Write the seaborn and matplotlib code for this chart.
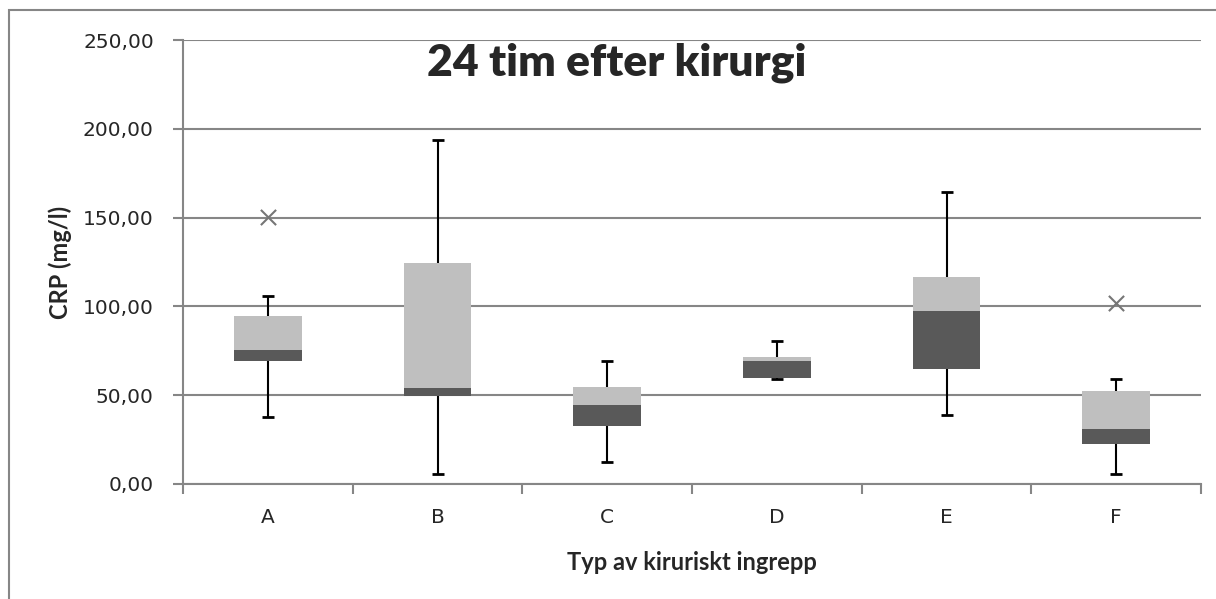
import numpy as np
import pandas as pd
import seaborn as sns
import matplotlib.pyplot as plt
from matplotlib.patches import Rectangle
from matplotlib.ticker import FuncFormatter, FixedLocator

# =========================================================
# DATA
# =========================================================
categories = ["A", "B", "C", "D", "E", "F"]
q1 = [69.3, 49.5, 32.6, 59.7, 64.8, 22.3]
median = [75.7, 53.8, 44.7, 69.5, 97.3, 31.2]
q3 = [94.9, 124.4, 54.9, 71.7, 116.5, 52.6]
whisker_low = [37.6, 5.7, 12.6, 58.9, 38.6, 5.7]
whisker_high = [105.7, 194.0, 69.0, 80.3, 164.7, 58.9]

outlier_cats = ["A", "F"]
outlier_vals = [150.6, 101.8]

title = "24 tim efter kirurgi"
xlabel = "Typ av kiruriskt ingrepp"
ylabel = "CRP (mg/l)"
yticks = [0, 50, 100, 150, 200, 250]

# =========================================================
# COLORS
# =========================================================
COL_LOW = "#595959"    # Q1 -> median
COL_HIGH = "#bfbfbf"   # median -> Q3
COL_GRID = "#868686"
COL_OUT = "#767676"

LABEL_FONT = ["Lato", "DejaVu Sans"]

df = pd.DataFrame({
    "cat": categories,
    "q1": q1,
    "median": median,
    "q3": q3,
    "lo": whisker_low,
    "hi": whisker_high,
})
df["lower_h"] = df["median"] - df["q1"]
df["upper_h"] = df["q3"] - df["median"]

# =========================================================
# FIGURE
# =========================================================
sns.set_style("white")
plt.rcParams["font.family"] = ["DejaVu Sans"]

fig = plt.figure(figsize=(12.16, 5.99), dpi=100)
ax = fig.add_axes([0.1505, 0.192, 0.8372, 0.741])

# outer chart frame (right and bottom edges fall outside the image)
fig.patches.append(Rectangle((9 / 1216, -0.05), 1.2, 1.05 - 10 / 599,
                             transform=fig.transFigure, fill=False,
                             edgecolor=COL_GRID, linewidth=1.5, zorder=0))

# stacked box halves
sns.barplot(data=df, x="cat", y="lower_h", order=categories, color=COL_LOW,
            saturation=1, width=0.4, errorbar=None, ax=ax,
            bottom=df["q1"].values, linewidth=0, zorder=2)
sns.barplot(data=df, x="cat", y="upper_h", order=categories, color=COL_HIGH,
            saturation=1, width=0.4, errorbar=None, ax=ax,
            bottom=df["median"].values, linewidth=0, zorder=2)

xpos = np.arange(len(categories))

# whiskers
ax.vlines(xpos, df["q3"], df["hi"], color="black", linewidth=1.5, zorder=3)
ax.vlines(xpos, df["lo"], df["q1"], color="black", linewidth=1.5, zorder=3)
ax.plot(xpos, df["hi"], linestyle="none", marker="_", markersize=9,
        markeredgewidth=2, color="black", zorder=4)
ax.plot(xpos, df["lo"], linestyle="none", marker="_", markersize=9,
        markeredgewidth=2, color="black", zorder=4)

# outliers
out_x = [categories.index(c) for c in outlier_cats]
ax.scatter(out_x, outlier_vals, marker="x", s=120, color=COL_OUT,
           linewidths=1.5, zorder=5)

# axes
ax.set_xlim(-0.5, len(categories) - 0.5)
ax.set_ylim(0, 250)
ax.set_yticks(yticks)
ax.yaxis.set_major_formatter(FuncFormatter(lambda v, p: f"{v:.2f}".replace(".", ",")))
ax.grid(axis="y", color=COL_GRID, linewidth=1.5, zorder=0)
ax.set_axisbelow(True)

ax.xaxis.set_minor_locator(FixedLocator(np.arange(-0.5, len(categories), 1.0)))
ax.tick_params(axis="x", which="major", length=0, pad=17, labelsize=14.5)
ax.tick_params(axis="x", which="minor", length=7, width=1.5, color=COL_GRID,
               direction="out", bottom=True)
ax.tick_params(axis="y", which="major", length=7, width=1.5, color=COL_GRID,
               direction="out", left=True, pad=14, labelsize=14.5)

for side in ["top", "right"]:
    ax.spines[side].set_visible(False)
for side in ["left", "bottom"]:
    ax.spines[side].set_color(COL_GRID)
    ax.spines[side].set_linewidth(1.5)

ax.set_xlabel(xlabel, fontsize=17, fontweight="bold", family=LABEL_FONT)
ax.set_ylabel(ylabel, fontsize=17, fontweight="bold", family=LABEL_FONT)
ax.xaxis.set_label_coords(0.5, -0.176)
ax.yaxis.set_label_coords(-0.121, 0.5)
ax.xaxis.label.set_va("center")
ax.yaxis.label.set_va("center")

ax.text(0.4263, 0.921, title, transform=ax.transAxes, ha="center", va="baseline",
        fontsize=32, fontweight="heavy", family=LABEL_FONT)

plt.savefig("out.png", dpi=100)
